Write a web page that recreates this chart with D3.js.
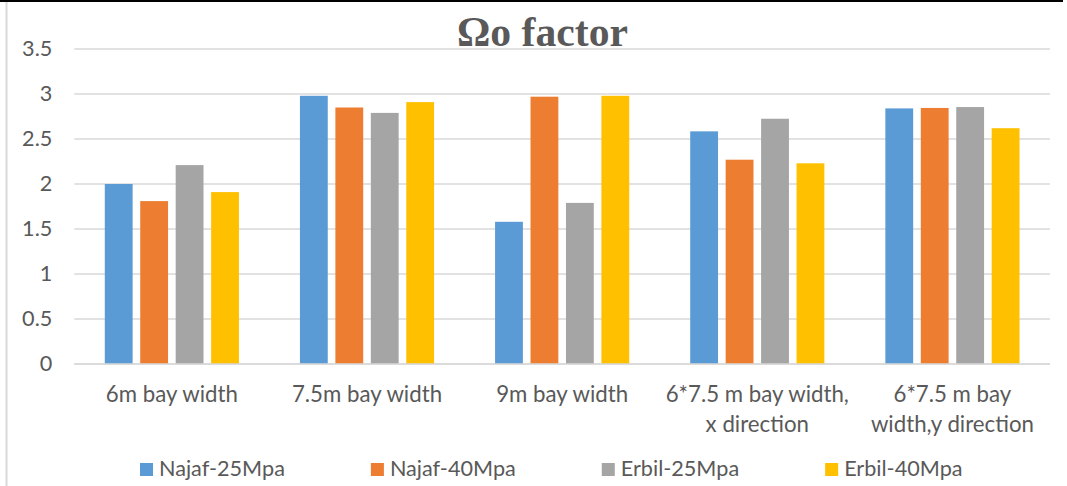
<!DOCTYPE html>
<html>
<head>
<meta charset="utf-8">
<script src="https://cdn.jsdelivr.net/npm/d3@7"></script>
<style>
  html, body { margin: 0; padding: 0; background: #fff; }
  svg { display: block; }
</style>
</head>
<body>
<svg id="chart" width="1067" height="486"></svg>
<script>
// ---- data ----
const categories = [
  ["6m bay width"],
  ["7.5m bay width"],
  ["9m bay width"],
  ["6*7.5 m bay width,", "x direction"],
  ["6*7.5 m bay", "width,y direction"]
];
const seriesNames = ["Najaf-25Mpa", "Najaf-40Mpa", "Erbil-25Mpa", "Erbil-40Mpa"];
const najaf25 = [2.00, 2.98, 1.58, 2.585, 2.84];
const najaf40 = [1.81, 2.85, 2.97, 2.27, 2.845];
const erbil25 = [2.21, 2.79, 1.79, 2.725, 2.855];
const erbil40 = [1.91, 2.91, 2.98, 2.23, 2.62];
const yTicks = [0, 0.5, 1, 1.5, 2, 2.5, 3, 3.5];
const colors = ["#5b9bd5", "#ed7d31", "#a5a5a5", "#ffc000"];
const titleText = "Ωo factor";

const seriesValues = [najaf25, najaf40, erbil25, erbil40];

// ---- layout ----
const W = 1067, H = 486;
const plot = { left: 74.3, right: 1050, top: 49, bottom: 364 };
const textColor = "#595959";
const gridColor = "#d9d9d9";
const sansFont = "Lato, 'Open Sans', sans-serif";

const svg = d3.select("#chart");

// helper: font size so a sample string gets a given width
function fitSize(text, family, weight, targetWidth) {
  const t = svg.append("text").attr("font-family", family).attr("font-weight", weight)
    .attr("font-size", 100).text(text);
  const w = t.node().getComputedTextLength();
  t.remove();
  return 100 * targetWidth / w;
}

const labelSize = fitSize("6m bay width", sansFont, "normal", 132);
const legendSize = fitSize("Najaf-25Mpa", sansFont, "normal", 126);
const tickSize = Math.min(labelSize, legendSize);
const titleSize = fitSize(titleText, "'Liberation Serif', 'Times New Roman', serif", "bold", 171);

// frame lines
svg.append("line").attr("x1", 0).attr("x2", 1063).attr("y1", 1).attr("y2", 1)
  .attr("stroke", "#000").attr("stroke-width", 2);
svg.append("line").attr("x1", 6.5).attr("x2", 6.5).attr("y1", 2).attr("y2", H)
  .attr("stroke", gridColor).attr("stroke-width", 2);

// scales
const x0 = d3.scaleBand().domain(d3.range(categories.length))
  .range([plot.left, plot.right]).paddingInner(0.3125).paddingOuter(0.3125 / 2);
const x1 = d3.scaleBand().domain(d3.range(seriesNames.length))
  .range([0, x0.bandwidth()]).paddingInner(0.215).paddingOuter(0);
const y = d3.scaleLinear().domain([0, 3.5]).range([plot.bottom, plot.top]);

// gridlines
svg.append("g").selectAll("line").data(yTicks).join("line")
  .attr("x1", plot.left).attr("x2", plot.right)
  .attr("y1", d => y(d)).attr("y2", d => y(d))
  .attr("stroke", gridColor).attr("stroke-width", 1.6);

// y axis via d3.axisLeft (domain hidden)
const yAxis = svg.append("g").attr("transform", `translate(${plot.left},0)`)
  .call(d3.axisLeft(y).tickValues(yTicks).tickSize(0).tickPadding(22)
    .tickFormat(d => String(d)));
yAxis.select(".domain").remove();
yAxis.selectAll("text").attr("fill", textColor).attr("font-size", tickSize)
  .attr("font-family", sansFont);

// title
svg.append("text").attr("x", 542.5).attr("y", 46).attr("text-anchor", "middle")
  .attr("font-family", "'Liberation Serif', 'Times New Roman', serif")
  .attr("font-weight", "bold").attr("font-size", titleSize)
  .attr("fill", textColor).text(titleText);

// bars
const groups = svg.append("g").selectAll("g").data(categories).join("g")
  .attr("transform", (d, i) => `translate(${x0(i)},0)`);
groups.selectAll("rect")
  .data((d, i) => seriesValues.map((s, k) => ({ k, v: s[i] })))
  .join("rect")
  .attr("x", d => x1(d.k)).attr("width", x1.bandwidth())
  .attr("y", d => y(d.v)).attr("height", d => y(0) - y(d.v))
  .attr("fill", d => colors[d.k]);

// zero axis line
svg.append("line").attr("x1", plot.left).attr("x2", plot.right)
  .attr("y1", y(0)).attr("y2", y(0)).attr("stroke", gridColor).attr("stroke-width", 1.6);

// category labels
const catG = svg.append("g");
categories.forEach((lines, i) => {
  const cx = x0(i) + x0.bandwidth() / 2;
  lines.forEach((ln, j) => {
    catG.append("text").attr("x", cx).attr("y", 402 + j * 29.7)
      .attr("text-anchor", "middle").attr("font-family", sansFont)
      .attr("font-size", labelSize).attr("fill", textColor).text(ln);
  });
});

// legend
const legend = svg.append("g");
let lx = 140;
seriesNames.forEach((name, k) => {
  legend.append("rect").attr("x", lx).attr("y", 463).attr("width", 13).attr("height", 13)
    .attr("fill", colors[k]);
  const t = legend.append("text").attr("x", lx + 19).attr("y", 476)
    .attr("font-family", sansFont).attr("font-size", legendSize)
    .attr("fill", textColor).text(name);
  lx += 19 + t.node().getComputedTextLength() + 86;
});
</script>
</body>
</html>
